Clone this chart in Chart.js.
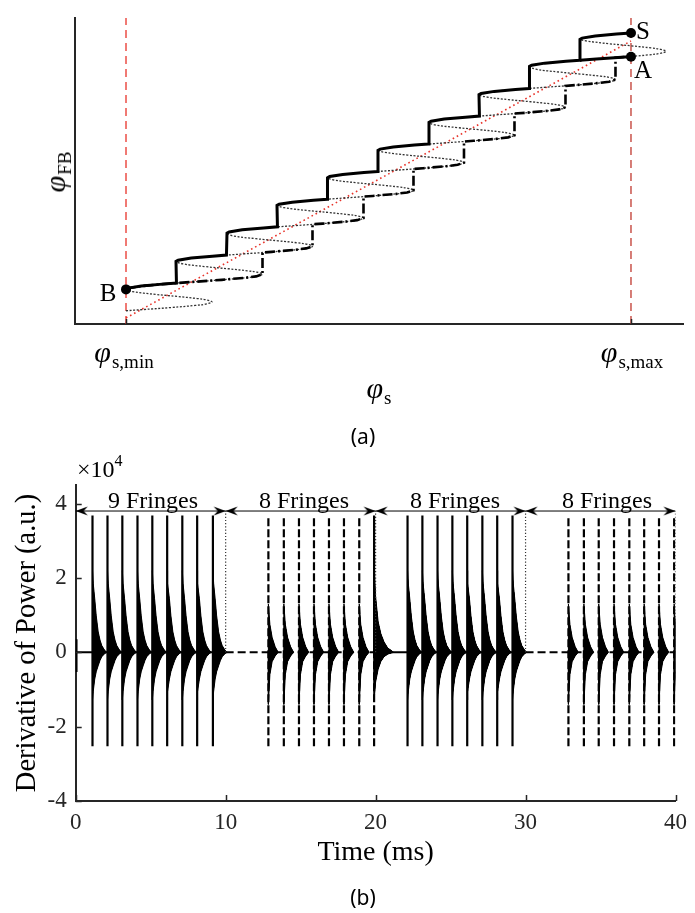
<!DOCTYPE html>
<html lang="en">
<head>
<meta charset="UTF-8">
<title>Feedback phase and fringe counting</title>
<script src="https://cdn.jsdelivr.net/npm/chart.js"></script>
<style>
    body { margin: 0; background: #fff; }
    .page { position: relative; width: 695px; height: 913px; font-family: 'Liberation Serif', serif; color: #000; }
    canvas { position: absolute; left: 0; }
    #phase-chart { top: 0; }
    #power-chart { top: 440px; }
    .lbl { position: absolute; white-space: nowrap; transform: translate(-50%, -50%); line-height: 1; }
    .phi { font-size: 30px; font-style: italic; }
    .sub { font-size: 19px; position: relative; top: 6px; margin-left: 1px; }
    .pt { font-size: 25px; }
    .cap { font-family: 'Noto Sans', sans-serif; font-size: 21px; }
    .fr { font-size: 24px; }
    .exp { font-size: 24px; }
    .exp sup { font-size: 16px; position: relative; top: -4px; vertical-align: top; }
</style>
</head>
<body>
<div class="page">
    <canvas id="phase-chart" width="695" height="440"></canvas>
    <canvas id="power-chart" width="695" height="473"></canvas>

    <!-- panel (a) text -->
    <div class="lbl" style="left:55px; top:172px; transform:translate(-50%,-50%) rotate(-90deg);"><span class="phi">φ</span><span class="sub">FB</span></div>
    <div class="lbl pt" style="left:108px; top:292px;">B</div>
    <div class="lbl pt" style="left:643px; top:30px;">S</div>
    <div class="lbl pt" style="left:643px; top:69px;">A</div>
    <div class="lbl" style="left:124px; top:352px;"><span class="phi">φ</span><span class="sub">s,min</span></div>
    <div class="lbl" style="left:632px; top:352px;"><span class="phi">φ</span><span class="sub">s,max</span></div>
    <div class="lbl" style="left:379px; top:388px;"><span class="phi">φ</span><span class="sub">s</span></div>
    <div class="lbl cap" style="left:363px; top:436px;">(a)</div>

    <!-- panel (b) text -->
    <div class="lbl exp" style="left:77px; top:469px; transform:translate(0,-50%);">×10<sup>4</sup></div>
    <div class="lbl fr" style="left:153px; top:500px;">9 Fringes</div>
    <div class="lbl fr" style="left:304px; top:500px;">8 Fringes</div>
    <div class="lbl fr" style="left:455px; top:500px;">8 Fringes</div>
    <div class="lbl fr" style="left:607px; top:500px;">8 Fringes</div>
    <div class="lbl cap" style="left:363px; top:897px;">(b)</div>
</div>

<script>
    // ---------- panel (a): feedback phase vs. source phase, one unit = one fringe ----------
    // left turning point of each fringe of the excess-phase curve
    const fringeBaseX = [-1, 0, 0.99, 2.0, 2.99, 3.99, 4.99, 6.0, 6.99, 7.99, 8.99];
    const fringeBaseY = [0.03, 1.03, 2.04, 3.06, 4.06, 5.06, 6.05, 7.06, 8.06, 9.08, 10.06];
    // shape of one fringe, measured from its left turning point
    // 0..4 up to the early jump, 5..9 up to the right turning point, 10..14 unstable part
    const shapeDX = [0, 0.043, 0.302, 0.722, 0.999, 1.324, 1.896, 2.366, 2.577, 2.703, 2.594, 2.407, 2.017, 1.583, 1.131];
    const shapeDY = [0, 0.045, 0.12, 0.19, 0.228, 0.27, 0.345, 0.42, 0.47, 0.547, 0.62, 0.67, 0.745, 0.82, 0.92];
    // where the late (dash-dot) jumps land on the next fringe
    const landingY = [2.36, 3.38, 4.38, 5.38, 6.37, 7.38, 8.38, 9.40];
    const pointB = { x: 0, y: 1.03 };
    const pointS = { x: 10, y: 10.29 };
    const pointA = { x: 10, y: 9.43 };
    const diagX = [0, 10];
    const diagY = [0, 10];
    const phaseTicks = [0, 10];   // phi_s,min and phi_s,max
    const phaseXRange = [-1.01, 11.03];
    const phaseYRange = [-0.22, 10.83];

    // ---------- panel (b): derivative of power (x 1e4) vs. time (ms) ----------
    const timeTicks = [0, 10, 20, 30, 40];
    const powerTicks = [-4, -2, 0, 2, 4];
    const solidSpikeT = [1.12, 2.12, 3.11, 4.12, 5.11, 6.10, 7.11, 8.10, 9.15,
                         22.13, 23.12, 24.13, 25.12, 26.11, 27.12, 28.11, 29.13];
    const dashSpikeT = [12.85, 13.88, 14.89, 15.89, 16.89, 17.89, 18.91,
                        32.86, 33.89, 34.88, 35.90, 36.92, 37.91, 38.90, 39.91];
    const boundarySpikeT = [19.90];
    const spikeTop = 3.68;
    const spikeBottom = -2.53;
    const blipT = 0.05, blipTop = 0.35, blipBottom = -0.53;
    // ringing envelope after a spike (solid runs)
    const tailDT = [0, 0.05, 0.15, 0.25, 0.38, 0.5, 0.62, 0.8, 0.95];
    const tailUp = [2.2, 1.85, 1.44, 0.98, 0.55, 0.33, 0.18, 0.06, 0];
    const tailDown = [-1.28, -1.05, -0.72, -0.52, -0.36, -0.22, -0.12, -0.04, 0];
    // ringing envelope after a spike (dashed runs)
    const dashTailDT = [0, 0.1, 0.25, 0.45, 0.65];
    const dashTailUp = [1.3, 0.75, 0.4, 0.15, 0];
    const dashTailDown = [-1.4, -0.6, -0.25, -0.1, 0];
    // long ringing after the spike at the 20 ms boundary
    const longTailDT = [0, 0.1, 0.27, 0.45, 0.66, 0.9, 1.3];
    const longTailUp = [2.3, 1.5, 0.82, 0.5, 0.28, 0.12, 0];
    const longTailDown = [-1.3, -0.8, -0.45, -0.25, -0.12, -0.05, 0];
    const solidBaseT = [[0, 10], [20, 30]];
    const dashBaseT = [[10, 20], [30, 40]];
    const boundT = [10, 20, 30, 40];
    const arrowY = 3.8;
    const arrowSpans = [[0, 10], [10, 20], [20, 30], [30, 40]];

    const serif = "'Liberation Serif', serif";
    const axisColor = '#262626';
    const red = '#e8332a';

    // small inward tick marks, like the original axes
    const inwardTicks = {
        id: 'inwardTicks',
        afterDatasetsDraw(chart, args, opts) {
            const { ctx, chartArea, scales } = chart;
            ctx.save();
            ctx.strokeStyle = axisColor;
            ctx.lineWidth = 1.5;
            ctx.beginPath();
            (opts.x || []).forEach(v => {
                const px = Math.round(scales.x.getPixelForValue(v)) + 0.5;
                ctx.moveTo(px, chartArea.bottom);
                ctx.lineTo(px, chartArea.bottom - opts.len);
            });
            (opts.y || []).forEach(v => {
                const py = Math.round(scales.y.getPixelForValue(v)) + 0.5;
                ctx.moveTo(chartArea.left, py);
                ctx.lineTo(chartArea.left + opts.len, py);
            });
            ctx.stroke();
            ctx.restore();
        }
    };

    function fringePt(n, i) {
        return { x: fringeBaseX[n] + shapeDX[i], y: fringeBaseY[n] + shapeDY[i] };
    }

    // full fringe curve (thin dotted)
    const curvePts = [];
    for (let i = 4; i <= 14; i++) curvePts.push(fringePt(0, i));
    for (let n = 1; n <= 9; n++) for (let i = 0; i <= 14; i++) curvePts.push(fringePt(n, i));
    for (let i = 0; i <= 3; i++) curvePts.push(fringePt(10, i));
    curvePts.push(pointS);

    // early-jump staircase (solid) from B to S
    const solidPts = [];
    for (let n = 1; n <= 9; n++) for (let i = 0; i <= 4; i++) solidPts.push(fringePt(n, i));
    for (let i = 0; i <= 3; i++) solidPts.push(fringePt(10, i));
    solidPts.push(pointS);

    // branch that ends at A
    const aPts = [fringePt(9, 4), fringePt(9, 5), fringePt(9, 6), pointA];

    // late-jump staircase (dash-dot)
    const dashDotPts = [];
    for (let i = 0; i <= 9; i++) dashDotPts.push(fringePt(1, i));
    for (let n = 2; n <= 9; n++) {
        dashDotPts.push({ x: fringeBaseX[n - 1] + shapeDX[9], y: landingY[n - 2] });
        if (n < 9) for (let i = 6; i <= 9; i++) dashDotPts.push(fringePt(n, i));
    }
    dashDotPts.push(fringePt(9, 6), pointA);

    new Chart(document.getElementById('phase-chart'), {
        type: 'line',
        data: {
            datasets: [
                { data: [pointB, pointS, pointA], showLine: false, pointRadius: 5, pointBackgroundColor: '#000', pointBorderWidth: 0, order: 0 },
                { data: solidPts, borderColor: '#000', borderWidth: 3, pointRadius: 0, order: 1 },
                { data: aPts, borderColor: '#000', borderWidth: 3, pointRadius: 0, order: 1 },
                { data: dashDotPts, borderColor: '#000', borderWidth: 2.6, borderDash: [10, 3, 2, 3], pointRadius: 0, order: 2 },
                { data: curvePts, borderColor: '#333', borderWidth: 1.3, borderDash: [2, 1.6], tension: 0.4, pointRadius: 0, order: 3 },
                { data: diagX.map((x, i) => ({ x, y: diagY[i] })), borderColor: red, borderWidth: 1.6, borderDash: [1.6, 3], pointRadius: 0, order: 4 },
                { data: [{ x: phaseTicks[0], y: phaseYRange[0] }, { x: phaseTicks[0], y: phaseYRange[1] }], borderColor: red, borderWidth: 1.3, borderDash: [8, 5], pointRadius: 0, order: 5 },
                { data: [{ x: phaseTicks[1], y: phaseYRange[0] }, { x: phaseTicks[1], y: phaseYRange[1] }], borderColor: '#c0392f', borderWidth: 1.3, borderDash: [8, 5], pointRadius: 0, order: 5 }
            ]
        },
        options: {
            responsive: false,
            animation: false,
            layout: { padding: { left: 75, right: 12, top: 18, bottom: 116 } },
            plugins: {
                legend: { display: false },
                tooltip: { enabled: false },
                inwardTicks: { x: phaseTicks, len: 5 }
            },
            scales: {
                x: {
                    type: 'linear', min: phaseXRange[0], max: phaseXRange[1],
                    grid: { display: false, drawTicks: false },
                    ticks: { display: false },
                    border: { color: axisColor, width: 2 },
                    afterFit: s => { s.height = 0; }
                },
                y: {
                    type: 'linear', min: phaseYRange[0], max: phaseYRange[1],
                    grid: { display: false, drawTicks: false },
                    ticks: { display: false },
                    border: { color: axisColor, width: 2 },
                    afterFit: s => { s.width = 0; }
                }
            }
        },
        plugins: [inwardTicks]
    });

    // ---------- panel (b) datasets ----------
    function spikeLines(times, lo, hi) {
        const pts = [];
        times.forEach(t => { pts.push({ x: t, y: lo }, { x: t, y: hi }, { x: t, y: null }); });
        return pts;
    }

    function tails(times, dt, up, down) {
        const pts = [];
        times.forEach(t => {
            pts.push({ x: t, y: 0 });
            dt.forEach((d, i) => pts.push({ x: t + d, y: up[i] }));
            pts.push({ x: t, y: null }, { x: t, y: 0 });
            dt.forEach((d, i) => pts.push({ x: t + d, y: down[i] }));
            pts.push({ x: t, y: null });
        });
        return pts;
    }

    function spans(list, y) {
        const pts = [];
        list.forEach(([a, b]) => { pts.push({ x: a, y }, { x: b, y }, { x: b, y: null }); });
        return pts;
    }

    // arrowhead drawn with its tip at the canvas centre
    const head = document.createElement('canvas');
    head.width = 28; head.height = 12;
    const hctx = head.getContext('2d');
    hctx.fillStyle = '#000';
    hctx.beginPath();
    hctx.moveTo(14, 6); hctx.lineTo(2, 1.5); hctx.lineTo(6, 6); hctx.lineTo(2, 10.5);
    hctx.closePath();
    hctx.fill();

    const solidSpikePts = spikeLines(solidSpikeT, spikeBottom, spikeTop)
        .concat(spikeLines(boundarySpikeT, 0, spikeTop))
        .concat(spikeLines([blipT], blipBottom, blipTop));
    const dashSpikePts = spikeLines(dashSpikeT, spikeBottom, spikeTop)
        .concat(spikeLines(boundarySpikeT, spikeBottom, 0));
    const tailPts = tails(solidSpikeT, tailDT, tailUp, tailDown)
        .concat(tails(dashSpikeT, dashTailDT, dashTailUp, dashTailDown))
        .concat(tails(boundarySpikeT, longTailDT, longTailUp, longTailDown));
    const boundPts = [];
    boundT.forEach(t => boundPts.push({ x: t, y: 0 }, { x: t, y: arrowY }, { x: t, y: null }));

    const arrowSets = arrowSpans.map(([a, b]) => ({
        data: [{ x: a, y: arrowY }, { x: b, y: arrowY }],
        borderColor: '#000', borderWidth: 1,
        pointStyle: head, pointRadius: 6,
        pointRotation: c => (c.dataIndex === 0 ? 180 : 0),
        order: 0
    }));

    new Chart(document.getElementById('power-chart'), {
        type: 'line',
        data: {
            datasets: [
                ...arrowSets,
                { data: boundPts, borderColor: '#333', borderWidth: 1.2, borderDash: [1.2, 2], pointRadius: 0, order: 1 },
                { data: solidSpikePts, borderColor: '#000', borderWidth: 2.2, pointRadius: 0, order: 2 },
                { data: dashSpikePts, borderColor: '#000', borderWidth: 2.2, borderDash: [8, 3], pointRadius: 0, order: 2 },
                { data: spans(solidBaseT, 0), borderColor: '#000', borderWidth: 2, pointRadius: 0, order: 3 },
                { data: spans(dashBaseT, 0), borderColor: '#000', borderWidth: 2, borderDash: [8, 4], pointRadius: 0, order: 3 },
                { data: tailPts, borderColor: '#000', borderWidth: 1, backgroundColor: '#000', fill: 'origin', pointRadius: 0, order: 4 }
            ]
        },
        options: {
            responsive: false,
            animation: false,
            layout: { padding: { left: 0, right: 14.3, top: 45, bottom: 42 } },
            plugins: {
                legend: { display: false },
                tooltip: { enabled: false },
                inwardTicks: { x: timeTicks, y: powerTicks, len: 6 }
            },
            scales: {
                x: {
                    type: 'linear', min: 0, max: 40,
                    afterBuildTicks: s => { s.ticks = timeTicks.map(v => ({ value: v })); },
                    grid: { display: false, drawTicks: false },
                    border: { color: axisColor, width: 2 },
                    ticks: { color: axisColor, font: { family: serif, size: 23 }, padding: 8, maxRotation: 0 },
                    title: { display: true, text: 'Time (ms)', color: '#000', font: { family: serif, size: 28 }, padding: { top: 0, bottom: 2 } },
                    afterFit: s => { s.height = 70; }
                },
                y: {
                    type: 'linear', min: -4, max: 4.5,
                    afterBuildTicks: s => { s.ticks = powerTicks.map(v => ({ value: v })); },
                    grid: { display: false, drawTicks: false },
                    border: { color: axisColor, width: 2 },
                    ticks: { color: axisColor, font: { family: serif, size: 23 }, padding: 9 },
                    title: { display: true, text: 'Derivative of Power (a.u.)', color: '#000', font: { family: serif, size: 28.5 }, padding: { top: 10, bottom: 0 } },
                    afterFit: s => { s.width = 75.7; }
                }
            }
        },
        plugins: [inwardTicks]
    });
</script>
</body>
</html>
